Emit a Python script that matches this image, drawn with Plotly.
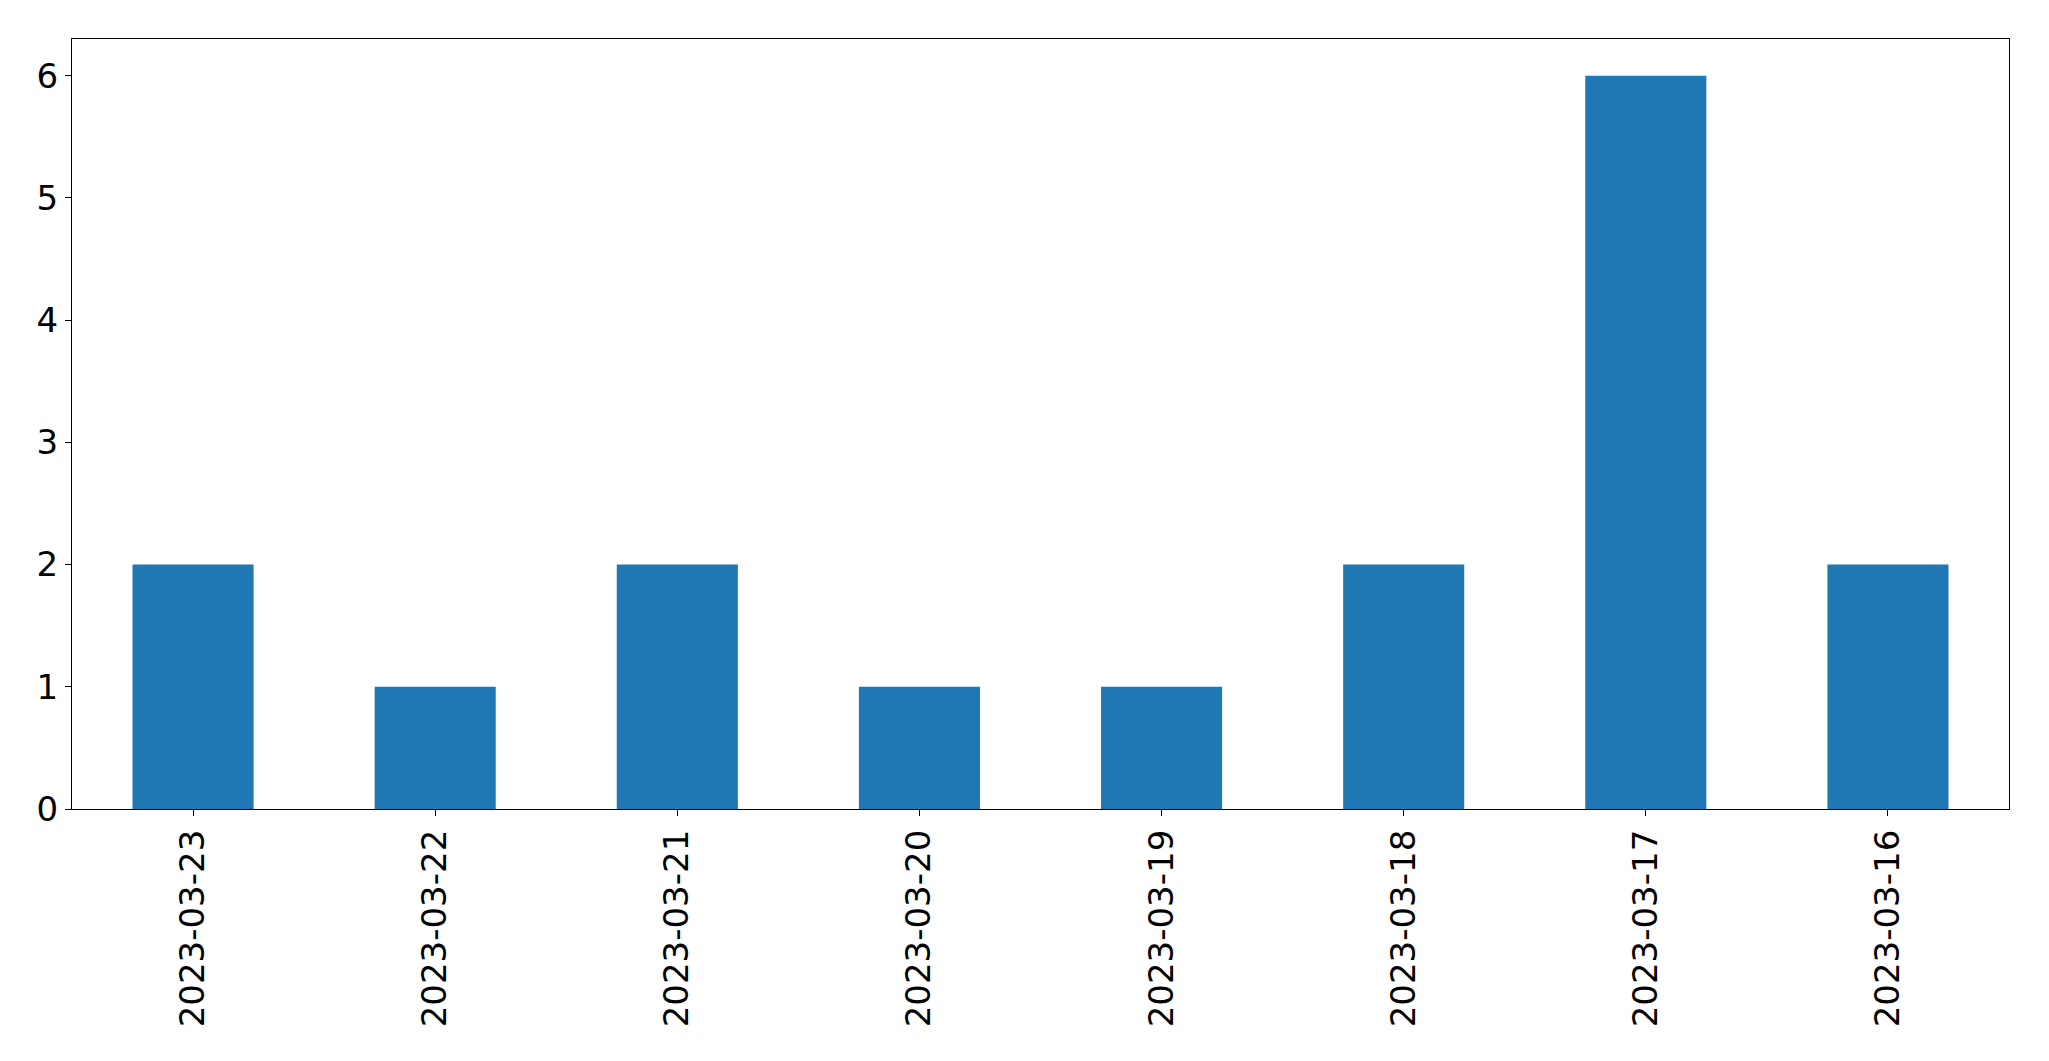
import plotly.graph_objects as go

dates = ["2023-03-23", "2023-03-22", "2023-03-21", "2023-03-20",
         "2023-03-19", "2023-03-18", "2023-03-17", "2023-03-16"]
counts = [2, 1, 2, 1, 1, 2, 6, 2]
y_ticks = [0, 1, 2, 3, 4, 5, 6]

x_pos = list(range(len(dates)))

fig = go.Figure(go.Bar(
    x=x_pos, y=counts, width=0.5,
    marker=dict(color="#1f77b4", line=dict(width=0)),
))

font = dict(family="DejaVu Sans", size=34, color="black")
fig.update_layout(
    width=2041, height=1053,
    margin=dict(l=64, r=40, t=31, b=252, autoexpand=False),
    paper_bgcolor="white", plot_bgcolor="white",
    showlegend=False,
    font=font,
    xaxis=dict(
        range=[-0.5, len(dates) - 0.5],
        tickmode="array", tickvals=x_pos, ticktext=dates,
        tickangle=-90, ticks="outside", ticklen=6, tickwidth=1.3, tickcolor="black",
        showline=True, linecolor="black", linewidth=1.3, mirror=True,
        showgrid=False, zeroline=False, tickfont=font, automargin=False,
    ),
    yaxis=dict(
        range=[0, 6.3],
        tickmode="array", tickvals=y_ticks,
        ticks="outside", ticklen=6, tickwidth=1.3, tickcolor="black",
        showline=True, linecolor="black", linewidth=1.3, mirror=True,
        showgrid=False, zeroline=False, tickfont=font, automargin=False,
    ),
)

fig.write_html("out.html")
